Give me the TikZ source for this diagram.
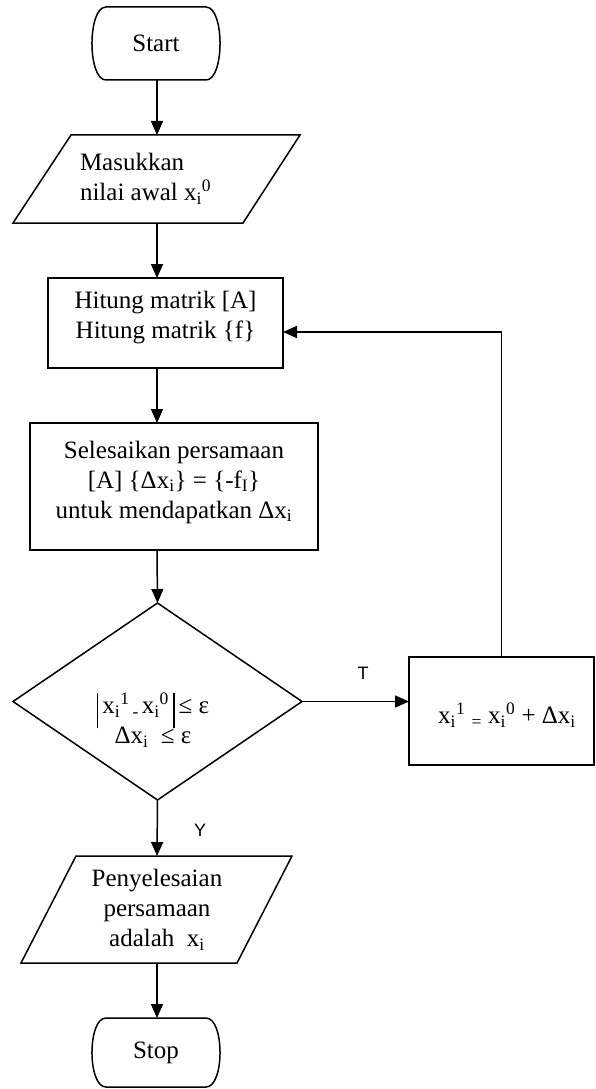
\documentclass[tikz,border=0pt]{standalone}
\usepackage{fontspec}
\setmainfont{Liberation Serif}
\newfontfamily\labelfont{Liberation Sans}
\usetikzlibrary{arrows.meta,shapes.geometric}
\newcommand\absbar{\smash{\rule[-15pt]{1.5pt}{35pt}}}
% terminal outline drawn round a named node: flat top/bottom, curved ends
\newcommand\termoutline[1]{%
  \draw[shp] ([xshift=14pt]#1.north west) -- ([xshift=-14pt]#1.north east)
    .. controls ([xshift=4.7pt]#1.north east) and ([xshift=4.7pt]#1.south east) ..
    ([xshift=-14pt]#1.south east) -- ([xshift=14pt]#1.south west)
    .. controls ([xshift=-4.7pt]#1.south west) and ([xshift=-4.7pt]#1.north west) ..
    cycle;}
\begin{document}
\begin{tikzpicture}[x=1pt,y=-1pt,
  every node/.style={font=\fontsize{25}{30}\selectfont, inner sep=0pt, outer sep=0pt},
  shp/.style={draw, line width=1.5pt},
  box/.style={shp, rectangle},
  term/.style={rectangle, minimum width=128pt},
  dia/.style={shp, diamond, minimum width=289pt, minimum height=197pt},
  txt/.style={align=center},
  flow/.style={line width=1.5pt, -{Triangle[length=14pt,width=12pt]}},
  lbl/.style={font=\labelfont\fontsize{18}{20}\selectfont}
]
\useasboundingbox (0,0) rectangle (595,1089);

% Start
\node[term, minimum height=73pt] (start) at (156,43.5) {Start};
\termoutline{start}

% input parallelogram
\draw[shp] (13,223) -- (71,135) -- (300,135) -- (243,223) -- cycle;
\coordinate (p1t) at (157,135);
\coordinate (p1b) at (157,223);
\node[txt, anchor=west, align=left] (p1txt) at (80,179) {Masukkan\\nilai awal x\textsubscript{i}\textsuperscript{0}};

% box 1
\node[box, minimum width=235pt, minimum height=90pt] (box1) at (165.5,323) {};
\node[txt] (box1txt) at (165.5,318) {Hitung matrik [A]\\Hitung matrik \{f\}};

% box 2
\node[box, minimum width=288pt, minimum height=127pt] (box2) at (174,486.5) {};
\node[txt] (box2txt) at (174,482) {Selesaikan persamaan\\{}[A] \{Δx\textsubscript{i}\} = \{-f\textsubscript{I}\}\\untuk mendapatkan Δx\textsubscript{i}};

% decision
\node[dia] (dia) at (157.5,701.5) {};
\node[txt] (diatxt) at (153,720) {\absbar\,x\textsubscript{i}\textsuperscript{1}\textsubscript{\,-\,}x\textsubscript{i}\textsuperscript{0}\,\absbar\,≤ ε\\Δx\textsubscript{i}\ \ ≤ ε};

% update box
\node[box, minimum width=185pt, minimum height=108pt] (upd) at (501.5,711) {};
\node[txt] (updtxt) at (507,715) {x\textsubscript{i}\textsuperscript{1} \textsubscript{=} x\textsubscript{i}\textsuperscript{0} + Δx\textsubscript{i}};
\coordinate (fb) at (501.5,332);

% output parallelogram
\draw[shp] (21,963) -- (76,856) -- (292,856) -- (237,963) -- cycle;
\coordinate (p2t) at (157,856);
\coordinate (p2b) at (157,963);
\node[txt] (p2txt) at (157,910) {Penyelesaian\\persamaan\\adalah\ \ x\textsubscript{i}};

% Stop
\node[term, minimum height=69pt] (stop) at (156,1052.5) {Stop};
\termoutline{stop}

% labels
\node[lbl] (lT) at (363,673) {T};
\node[lbl] (lY) at (200,830) {Y};

% connectors
\draw[flow] (start.south -| p1t) -- (p1t);
\draw[flow] (p1b) -- (p1b |- box1.north);
\draw[flow] (p1b |- box1.south) -- (p1b |- box2.north);
\draw[flow] (p1b |- box2.south) -- (dia.north);
\draw[flow] (dia.east) -- (upd.west |- dia.east);
\draw[flow] (upd.north) -- (fb) -- (box1.east |- fb);
\draw[flow] (dia.south) -- (p2t);
\draw[flow] (p2b) -- (p2b |- stop.north);
\end{tikzpicture}
\end{document}
